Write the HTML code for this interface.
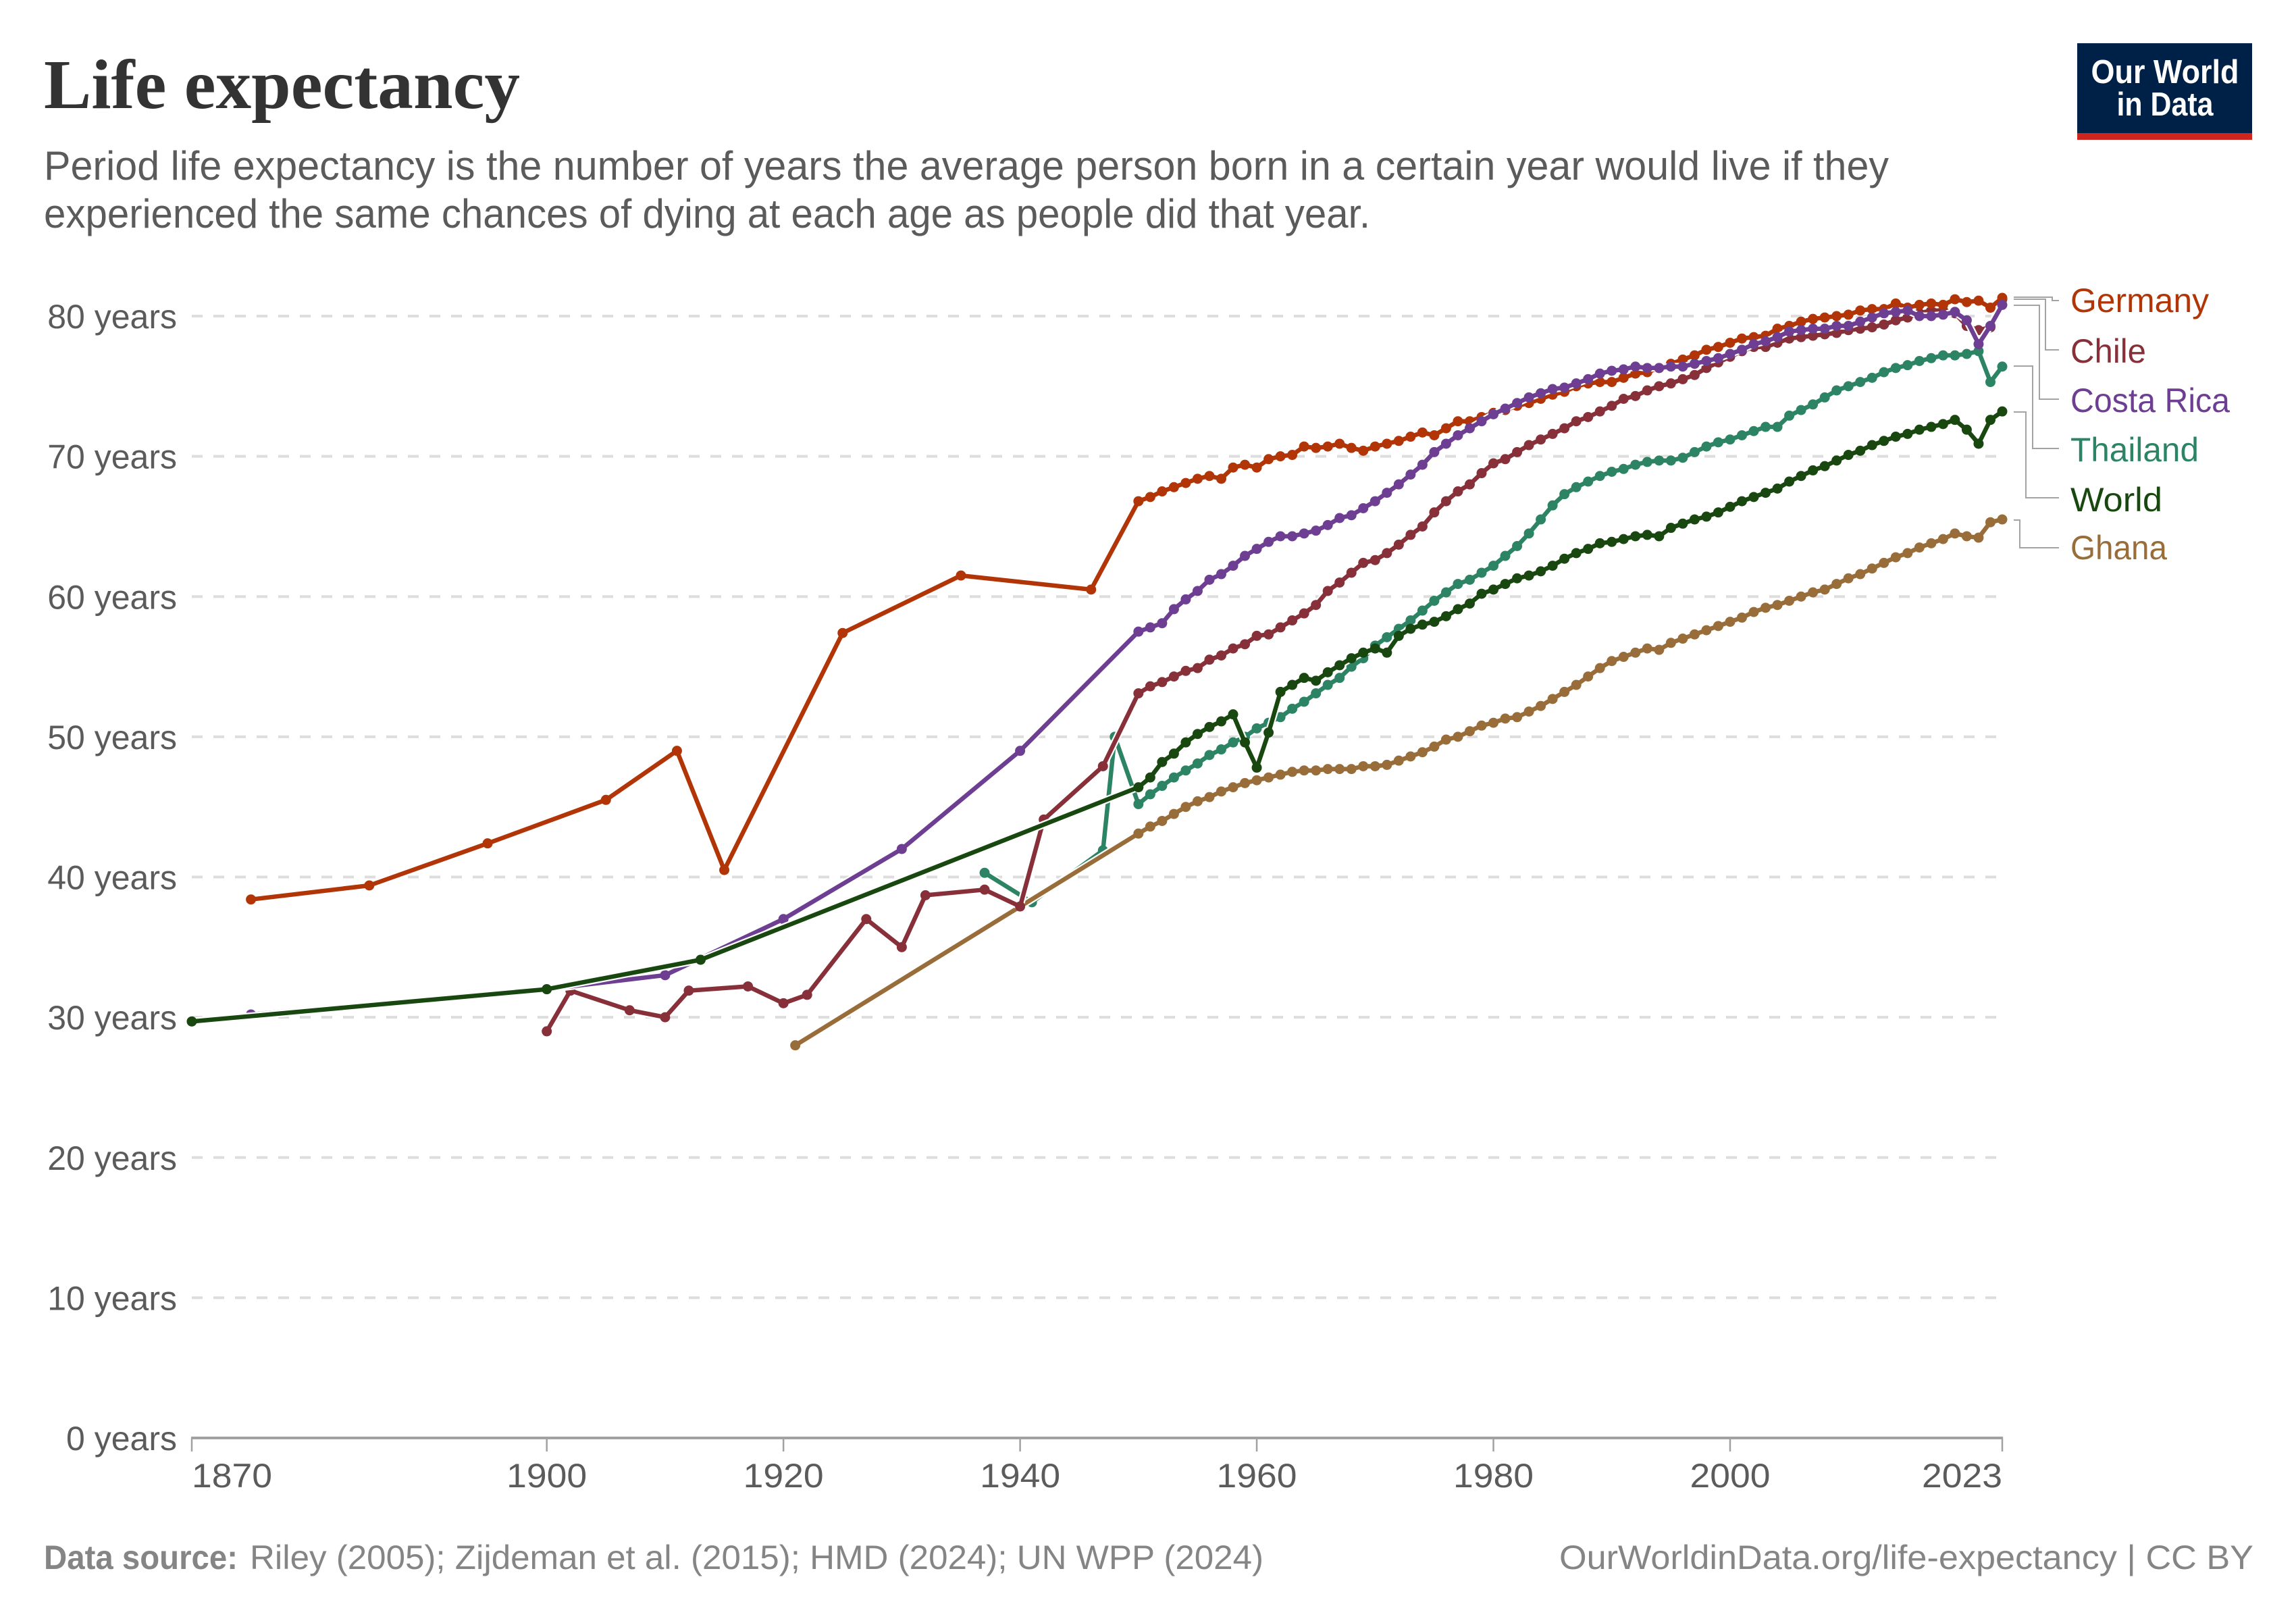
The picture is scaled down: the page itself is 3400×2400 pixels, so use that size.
<!DOCTYPE html>
<html lang="en">
<head>
<meta charset="utf-8">
<title>Life expectancy</title>
<style>
  html, body { margin: 0; padding: 0; background: #fff; }
  svg { display: block; }
  text { font-family: "Liberation Sans", sans-serif; }
</style>
</head>
<body>
<svg id="chart" xmlns="http://www.w3.org/2000/svg" width="3400" height="2400" viewBox="0 0 3400 2400">
  <rect width="3400" height="2400" fill="#ffffff"/>
  <text x="65" y="160" font-size="104" font-weight="700" fill="#333333" textLength="705" lengthAdjust="spacingAndGlyphs" style="font-family:'Liberation Serif',serif">Life expectancy</text>
  <text x="65" y="266" font-size="60" fill="#5b5b5b" textLength="2732" lengthAdjust="spacingAndGlyphs">Period life expectancy is the number of years the average person born in a certain year would live if they</text>
  <text x="65" y="337" font-size="60" fill="#5b5b5b" textLength="1964" lengthAdjust="spacingAndGlyphs">experienced the same chances of dying at each age as people did that year.</text>

  <g>
    <rect x="3076" y="64" width="259" height="143" fill="#002147"/>
    <rect x="3076" y="197" width="259" height="10" fill="#ce261e"/>
    <text x="3206" y="123" font-size="49" font-weight="700" fill="#ffffff" text-anchor="middle" textLength="219" lengthAdjust="spacingAndGlyphs">Our World</text>
    <text x="3206" y="171" font-size="49" font-weight="700" fill="#ffffff" text-anchor="middle" textLength="143" lengthAdjust="spacingAndGlyphs">in Data</text>
  </g>

  <g id="grid"></g>
  <g id="yaxis"></g>
  <g id="xaxis"></g>
  <g id="series"></g>

  <g fill="none" stroke="#a3a3a3" stroke-width="2">
    <path d="M2982 440H3039V445H3049"/>
    <path d="M2982 443H3029V518H3049"/>
    <path d="M2982 452H3020V591H3049"/>
    <path d="M2982 542H3010V664H3049"/>
    <path d="M2982 610H3000V737H3049"/>
    <path d="M2982 770H2991V811H3049"/>
  </g>
  <g font-size="50">
    <text x="3066" y="462" fill="#B13507" textLength="205" lengthAdjust="spacingAndGlyphs">Germany</text>
    <text x="3066" y="537" fill="#883039" textLength="112" lengthAdjust="spacingAndGlyphs">Chile</text>
    <text x="3066" y="610" fill="#6D3E91" textLength="236" lengthAdjust="spacingAndGlyphs">Costa Rica</text>
    <text x="3066" y="683" fill="#2C8465" textLength="190" lengthAdjust="spacingAndGlyphs">Thailand</text>
    <text x="3066" y="757" fill="#18470F" textLength="136" lengthAdjust="spacingAndGlyphs">World</text>
    <text x="3066" y="828" fill="#996D39" textLength="143" lengthAdjust="spacingAndGlyphs">Ghana</text>
  </g>

  <text x="65" y="2323" font-size="50" font-weight="700" fill="#858585" textLength="287" lengthAdjust="spacingAndGlyphs">Data source:</text>
  <text x="370" y="2323" font-size="50" fill="#858585" textLength="1501" lengthAdjust="spacingAndGlyphs">Riley (2005); Zijdeman et al. (2015); HMD (2024); UN WPP (2024)</text>
  <text x="2309" y="2323" font-size="50" fill="#858585" textLength="1028" lengthAdjust="spacingAndGlyphs">OurWorldinData.org/life-expectancy | CC BY</text>
</svg>

<script>
const yTicks = [0, 10, 20, 30, 40, 50, 60, 70, 80];
const yTickLabels = ['0 years', '10 years', '20 years', '30 years', '40 years', '50 years', '60 years', '70 years', '80 years'];
const xTicks = [1870, 1900, 1920, 1940, 1960, 1980, 2000, 2023];
const xTickLabels = ['1870', '1900', '1920', '1940', '1960', '1980', '2000', '2023'];

const annualYears = [
  1950,1951,1952,1953,1954,1955,1956,1957,1958,1959,
  1960,1961,1962,1963,1964,1965,1966,1967,1968,1969,
  1970,1971,1972,1973,1974,1975,1976,1977,1978,1979,
  1980,1981,1982,1983,1984,1985,1986,1987,1988,1989,
  1990,1991,1992,1993,1994,1995,1996,1997,1998,1999,
  2000,2001,2002,2003,2004,2005,2006,2007,2008,2009,
  2010,2011,2012,2013,2014,2015,2016,2017,2018,2019,
  2020,2021,2022,2023
];

const thailandEarlyYears = [1937, 1941, 1947, 1948];
const thailandEarlyValues = [40.3, 38.2, 41.9, 50.0];
const thailandAnnualValues = [
  45.2,45.9,46.5,47.1,47.6,48.1,48.7,49.1,49.6,50.0,
  50.6,51.0,51.4,52.0,52.5,53.1,53.7,54.2,55.0,55.6,
  56.5,57.1,57.7,58.3,59.0,59.7,60.3,60.9,61.2,61.7,
  62.2,62.9,63.6,64.5,65.5,66.5,67.3,67.8,68.2,68.6,
  68.9,69.1,69.4,69.6,69.7,69.7,69.9,70.3,70.7,71.0,
  71.2,71.5,71.8,72.1,72.1,72.9,73.3,73.7,74.2,74.7,
  75.0,75.3,75.6,76.0,76.3,76.5,76.8,77.0,77.2,77.2,
  77.3,77.5,75.3,76.4
];

const ghanaEarlyYears = [1921];
const ghanaEarlyValues = [28.0];
const ghanaAnnualValues = [
  43.1,43.6,44.0,44.5,45.0,45.4,45.7,46.1,46.4,46.7,
  46.9,47.1,47.3,47.5,47.6,47.6,47.7,47.7,47.7,47.9,
  47.9,48.0,48.3,48.6,48.9,49.3,49.8,50.0,50.4,50.8,
  51.0,51.3,51.4,51.8,52.2,52.7,53.2,53.7,54.3,54.9,
  55.4,55.7,56.0,56.3,56.2,56.7,57.0,57.3,57.6,57.9,
  58.2,58.5,58.9,59.2,59.4,59.7,60.0,60.3,60.5,60.9,
  61.3,61.6,62.0,62.4,62.8,63.1,63.5,63.8,64.1,64.5,
  64.3,64.2,65.3,65.5
];

const chileEarlyYears = [1900,1902,1907,1910,1912,1917,1920,1922,1927,1930,1932,1937,1940,1942,1947];
const chileEarlyValues = [29.0,31.9,30.5,30.0,31.9,32.2,31.0,31.6,37.0,35.0,38.7,39.1,37.9,44.1,47.9];
const chileAnnualValues = [
  53.1,53.6,53.9,54.3,54.7,54.9,55.5,55.8,56.3,56.6,
  57.2,57.3,57.8,58.3,58.8,59.4,60.4,61.0,61.7,62.4,
  62.6,63.1,63.7,64.4,65.0,66.0,66.8,67.5,68.0,68.8,
  69.5,69.8,70.3,70.8,71.2,71.6,72.0,72.5,72.8,73.2,
  73.6,74.1,74.3,74.7,75.0,75.2,75.5,75.8,76.3,76.7,
  77.1,77.5,77.8,77.8,78.1,78.4,78.5,78.6,78.7,78.8,
  79.0,79.1,79.2,79.4,79.7,79.9,80.2,80.4,80.4,80.2,
  79.3,79.0,79.2,81.2
];

const germanyEarlyYears = [1875,1885,1895,1905,1911,1915,1925,1935,1946];
const germanyEarlyValues = [38.4,39.4,42.4,45.5,49.0,40.5,57.4,61.5,60.5];
const germanyAnnualValues = [
  66.8,67.1,67.5,67.8,68.1,68.4,68.6,68.4,69.2,69.4,
  69.2,69.8,70.0,70.1,70.7,70.6,70.7,70.9,70.6,70.4,
  70.7,70.9,71.1,71.4,71.7,71.5,72.0,72.5,72.5,72.8,
  73.1,73.3,73.6,73.8,74.1,74.4,74.6,75.0,75.2,75.3,
  75.3,75.6,75.9,76.0,76.3,76.6,76.9,77.2,77.6,77.8,
  78.1,78.4,78.5,78.6,79.1,79.3,79.6,79.8,79.9,80.0,
  80.1,80.4,80.5,80.5,80.9,80.6,80.8,80.9,80.8,81.2,
  81.0,81.1,80.6,81.3
];

const costaRicaEarlyYears = [1875,1900,1910,1920,1930,1940];
const costaRicaEarlyValues = [30.2,32.0,33.0,37.0,42.0,49.0];
const costaRicaAnnualValues = [
  57.5,57.8,58.1,59.1,59.8,60.4,61.2,61.6,62.2,62.9,
  63.4,63.9,64.3,64.3,64.5,64.7,65.1,65.6,65.8,66.3,
  66.8,67.4,68.0,68.7,69.4,70.3,70.9,71.5,72.0,72.5,
  73.0,73.4,73.8,74.2,74.5,74.8,74.9,75.2,75.5,75.9,
  76.1,76.2,76.4,76.3,76.3,76.4,76.4,76.6,76.8,77.0,
  77.3,77.6,78.0,78.2,78.5,78.9,79.0,79.1,79.1,79.3,
  79.3,79.6,79.9,80.2,80.3,80.4,80.0,80.0,80.1,80.3,
  79.7,78.0,79.3,80.8
];

const worldEarlyYears = [1870,1900,1913];
const worldEarlyValues = [29.7,32.0,34.1];
const worldAnnualValues = [
  46.4,47.1,48.2,48.8,49.6,50.2,50.7,51.1,51.6,49.6,
  47.8,50.3,53.2,53.7,54.2,54.0,54.6,55.1,55.6,56.0,
  56.3,56.0,57.2,57.7,58.0,58.2,58.6,59.1,59.5,60.2,
  60.5,60.9,61.3,61.5,61.8,62.2,62.7,63.1,63.4,63.8,
  63.9,64.1,64.3,64.4,64.3,64.9,65.2,65.5,65.7,66.0,
  66.4,66.8,67.1,67.4,67.7,68.2,68.6,69.0,69.3,69.7,
  70.1,70.4,70.8,71.1,71.4,71.6,71.9,72.1,72.3,72.6,
  71.9,70.9,72.6,73.2
];

const seriesNames = ['thailand', 'ghana', 'chile', 'germany', 'costa-rica', 'world'];
const seriesColors = ['#2C8465', '#996D39', '#883039', '#B13507', '#6D3E91', '#18470F'];
const seriesEarlyYears = [thailandEarlyYears, ghanaEarlyYears, chileEarlyYears, germanyEarlyYears, costaRicaEarlyYears, worldEarlyYears];
const seriesEarlyValues = [thailandEarlyValues, ghanaEarlyValues, chileEarlyValues, germanyEarlyValues, costaRicaEarlyValues, worldEarlyValues];
const seriesAnnualValues = [thailandAnnualValues, ghanaAnnualValues, chileAnnualValues, germanyAnnualValues, costaRicaAnnualValues, worldAnnualValues];

const NS = 'http://www.w3.org/2000/svg';
const plotLeft = 284, plotRight = 2965, plotBottom = 2129, plotTop = 468;
const xMin = 1870, xMax = 2023, yMin = 0, yMax = 80;
function xScale(year) { return plotLeft + (year - xMin) * (plotRight - plotLeft) / (xMax - xMin); }
function yScale(value) { return plotBottom - (value - yMin) * (plotBottom - plotTop) / (yMax - yMin); }

function make(tag, attrs, parent) {
  const el = document.createElementNS(NS, tag);
  for (const k in attrs) el.setAttribute(k, attrs[k]);
  parent.appendChild(el);
  return el;
}

const grid = document.getElementById('grid');
const yaxis = document.getElementById('yaxis');
const xaxis = document.getElementById('xaxis');
const seriesGroup = document.getElementById('series');

yTicks.forEach(function (tick, i) {
  if (tick !== 0) {
    const line = make('line', { x1: plotLeft, x2: plotRight, y1: yScale(tick), y2: yScale(tick), stroke: '#dddddd', 'stroke-width': 4, 'stroke-dasharray': '16 16' }, grid);
    
    
  }
  const label = make('text', { x: 262, y: yScale(tick) + 18, 'font-size': 50, fill: '#5b5b5b', 'text-anchor': 'end' }, yaxis);
  
  
  label.textContent = yTickLabels[i];
});

const axisLine = make('line', { x1: plotLeft - 1, x2: plotRight + 1, y1: plotBottom, y2: plotBottom, stroke: '#a1a1a1', 'stroke-width': 4 }, xaxis);



xTicks.forEach(function (tick, i) {
  const px = xScale(tick);
  const mark = make('line', { x1: px, x2: px, y1: plotBottom, y2: plotBottom + 20, stroke: '#a1a1a1', 'stroke-width': 2.5 }, xaxis);
  
  
  const first = i === 0, last = i === xTicks.length - 1;
  const label = make('text', {
    x: px, y: 2202, 'font-size': 50, fill: '#5b5b5b',
    'text-anchor': first ? 'start' : (last ? 'end' : 'middle'),
    textLength: 119, lengthAdjust: 'spacingAndGlyphs'
  }, xaxis);
  
  
  label.textContent = xTickLabels[i];
});

seriesNames.forEach(function (name, s) {
  const years = seriesEarlyYears[s].concat(annualYears);
  const values = seriesEarlyValues[s].concat(seriesAnnualValues[s]);
  const pts = years.map(function (y, i) { return xScale(y).toFixed(1) + ',' + yScale(values[i]).toFixed(1); }).join(' ');
  const g = make('g', {}, seriesGroup);
  
  
  const halo = make('polyline', { points: pts, fill: 'none', stroke: '#ffffff', 'stroke-width': 11, 'stroke-linejoin': 'round', 'stroke-linecap': 'round' }, g);
  
  
  const line = make('polyline', { points: pts, fill: 'none', stroke: seriesColors[s], 'stroke-width': 6.5, 'stroke-linejoin': 'round', 'stroke-linecap': 'round' }, g);
  
  
  years.forEach(function (y, i) {
    const dot = make('circle', { cx: xScale(y), cy: yScale(values[i]), r: 7.5, fill: seriesColors[s] }, g);
    
    
  });
});
</script>
</body>
</html>
